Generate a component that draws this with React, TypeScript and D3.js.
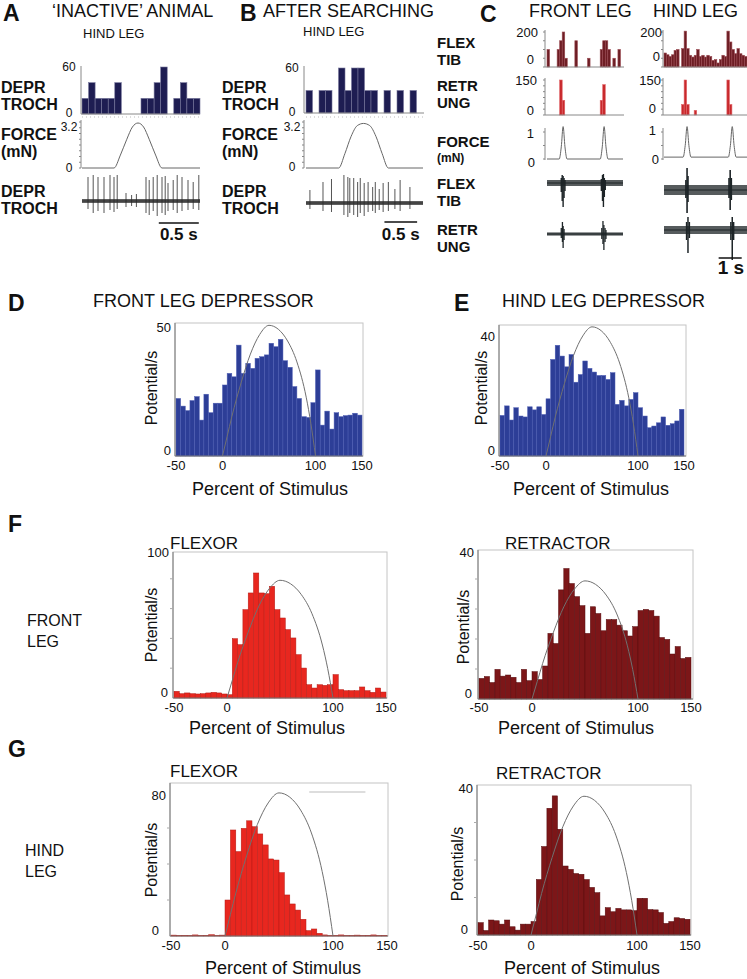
import React from "react";
import * as d3 from "d3";

const ff = "Liberation Sans, Arial, Helvetica, sans-serif";

// ---------- A / B : hind leg depressor, single stimuli ----------
const deprBinsA = [20, 40, 20, 20, 20, 40, 0, 0, 0, 20, 20, 40, 60, 0, 20, 40, 20, 20];
const deprBinsB = [30, 0, 30, 30, 0, 60, 30, 60, 60, 30, 30, 0, 30, 0, 30, 0, 30, 0];
// force samples [s, mN]
const forceA: [number, number][] = [[0, 0], [0.4, 0], [0.48, 0.9], [0.56, 2.0], [0.63, 2.85], [0.7, 3.13], [0.77, 2.85], [0.84, 2.0], [0.92, 0.9], [1.0, 0], [1.475, 0]];
const forceB: [number, number][] = [[0, 0], [0.5, 0], [0.595, 1.0], [0.69, 2.2], [0.785, 2.95], [0.88, 3.1], [0.975, 2.95], [1.07, 2.2], [1.165, 1.0], [1.26, 0], [1.79, 0]];
// spikes [s, up, down] (arbitrary units)
const spikesA: [number, number, number][] = [[0.075, 24, 8], [0.14, 26, 12], [0.2, 24, 10], [0.275, 24, 12], [0.35, 26, 9], [0.4, 24, 11], [0.44, 26, 8], [0.55, 8, 6], [0.62, 6, 5], [0.68, 7, 6], [0.8, 24, 12], [0.84, 21, 14], [0.89, 24, 10], [0.94, 26, 15], [1.0, 24, 12], [1.04, 25, 14], [1.075, 18, 10], [1.14, 21, 9], [1.19, 26, 12], [1.25, 24, 10], [1.325, 21, 9], [1.39, 19, 8], [1.46, 26, 9]];
const spikesB: [number, number, number][] = [[0.06, 13, 6], [0.26, 21, 8], [0.39, 24, 9], [0.58, 28, 12], [0.64, 26, 14], [0.67, 25, 10], [0.73, 25, 12], [0.79, 21, 14], [0.83, 25, 10], [0.89, 20, 13], [0.95, 21, 9], [1.02, 16, 8], [1.06, 21, 10], [1.12, 14, 7], [1.18, 20, 9], [1.26, 21, 8], [1.36, 14, 6], [1.44, 23, 8], [1.59, 16, 6]];

// ---------- C : front vs hind leg, repeated stimuli ----------
const flexFront = [100, 0, 0, 0, 100, 150, 200, 50, 0, 0, 0, 150, 0, 0, 0, 0, 50, 0, 0, 0, 0, 100, 150, 150, 100, 0, 50, 0, 100, 0];
const retrFront = [0, 0, 0, 0, 0, 150, 63, 0, 0, 0, 0, 0, 0, 0, 0, 0, 0, 0, 0, 0, 0, 63, 130, 0, 0, 0, 0, 0, 0, 0];
const flexHind = [80, 70, 60, 70, 95, 100, 0, 105, 205, 105, 67, 57, 67, 100, 60, 67, 57, 67, 60, 38, 42, 23, 42, 67, 60, 205, 143, 100, 76, 105, 76, 67, 60];
const retrHind = [0, 0, 0, 0, 0, 0, 0, 45, 150, 45, 0, 0, 20, 0, 0, 0, 0, 0, 0, 0, 0, 0, 0, 0, 0, 150, 45, 0, 0, 0, 0, 0, 0];
const forceFront: [number, number][] = [[0, 0], [0.53, 0], [0.62, 0.45], [0.7, 1.2], [0.78, 0.45], [0.87, 0], [2.31, 0], [2.4, 0.45], [2.48, 1.2], [2.56, 0.45], [2.65, 0], [3.3, 0]];
const forceHind: [number, number][] = [[0, 0.07], [0.83, 0.07], [0.92, 0.5], [1.0, 1.2], [1.08, 0.5], [1.17, 0.07], [2.79, 0.07], [2.88, 0.5], [2.96, 1.2], [3.04, 0.5], [3.13, 0.07], [3.6, 0.07]];
const flexFrontSpk: [number, number, number][] = [[0.62, 5, 9], [0.66, 8, 18], [0.7, 7, 24], [0.74, 5, 15], [0.78, 3, 8], [2.36, 4, 8], [2.41, 8, 18], [2.45, 9, 24], [2.49, 5, 14], [2.53, 3, 7]];
const retrFrontSpk: [number, number, number][] = [[0.62, 6, 4], [0.67, 12, 8], [0.7, 8, 14], [0.74, 5, 6], [2.38, 6, 5], [2.43, 13, 10], [2.47, 9, 16], [2.52, 6, 8], [2.56, 4, 5]];
const flexHindSpk: [number, number, number][] = [[0.95, 10, 8], [1.0, 22, 23], [1.04, 14, 12], [2.82, 12, 8], [2.87, 20, 20], [2.92, 12, 10]];
const retrHindSpk: [number, number, number][] = [[0.98, 8, 10], [1.04, 13, 23], [1.1, 8, 8], [2.9, 8, 10], [2.96, 13, 30], [3.02, 8, 10]];

// ---------- D-G : phase histograms (5% bins, -50..150 % of stimulus) ----------
const dVals = [21.8, 18.9, 17.2, 21, 22.5, 13.6, 23.4, 16.4, 20, 20, 26.9, 31.3, 30, 42, 31.3, 35.1, 33.2, 37, 37.6, 38.3, 42.7, 41.4, 44.2, 36.1, 33.6, 26.3, 21.8, 14.9, 14.6, 20.2, 32.6, 11.7, 17, 10.2, 16.4, 14.9, 15.3, 15.5, 16.2, 15.5];
const eVals = [13.2, 16.3, 11.7, 15.7, 13, 12.7, 16, 15, 16, 13.5, 18.6, 31.4, 36, 32.5, 29, 33, 24, 26.5, 30.9, 28.5, 27.3, 26.2, 26.2, 24.9, 27.1, 16.8, 18.1, 16.3, 18.4, 20.6, 15.7, 13, 9.2, 9.75, 10.8, 12.7, 10, 10.5, 11.4, 15.2];
const fFlexVals = [4.5, 2.9, 3.4, 2.9, 2.7, 2.9, 3.4, 3.8, 3.4, 2.7, 2.2, 39.8, 35.8, 59.3, 70.5, 83.9, 70.5, 70, 75, 59.3, 53.7, 45.9, 40.3, 29.1, 20.1, 8.9, 6.7, 8.9, 8.5, 8.9, 15.7, 5.6, 4.9, 4.9, 4.9, 7.4, 4.9, 3.8, 6.7, 4];
const fRetrVals = [5.5, 6, 4.4, 7.9, 6.1, 6.4, 5.8, 4.4, 7.9, 4.9, 7.3, 5.2, 8.8, 17.5, 14.8, 29.1, 34.8, 30.8, 27.3, 24.9, 17.5, 24.6, 22.8, 18.2, 21.2, 21.2, 19.7, 18.2, 16.8, 19.3, 23.6, 23.9, 23.6, 22.1, 16.4, 15.9, 12, 14, 10.8, 11.1];
const gFlexVals = [0.5, 0.3, 0.4, 0.3, 0.6, 0.3, 0.4, 0.7, 0.3, 0.5, 20, 58.9, 46.9, 59.8, 64, 60.7, 56.7, 50.6, 42.8, 42.2, 35.2, 22.8, 17.8, 14.4, 9.3, 3, 3.9, 1.5, 0.6, 0.3, 0.4, 0.6, 0.3, 0.3, 0.5, 0.3, 0.4, 0.6, 0.3, 0.4];
const gRetrVals = [3.3, 1.2, 4, 3.8, 2.9, 4, 2.2, 1.3, 2.9, 2.9, 3.6, 14.8, 23.6, 33.8, 37.1, 28.2, 18.4, 17.5, 16.4, 16.2, 14.8, 12.7, 11.3, 5.1, 7.3, 6.2, 7.1, 6.7, 6.7, 6.5, 9.8, 9.8, 6.8, 6.7, 6, 3.1, 3.6, 4.6, 4.4, 4.2];
// stimulus (force) profile overlaid, % of stimulus -> fraction of peak
const stimPct = [0, 5, 10, 20, 30, 40, 50, 60, 70, 80, 90, 95, 100];
const stimFrac = [0, 0.15, 0.3, 0.56, 0.78, 0.93, 1, 0.97, 0.88, 0.72, 0.45, 0.25, 0];
const xTicks = [-50, 0, 100, 150];

type Lin = d3.ScaleLinear<number, number>;

function MiniHist({ vals, t, y, fill, edge }: { vals: number[]; t: Lin; y: Lin; fill: string; edge: string }) {
  const [t0, t1] = t.domain();
  const w = (t1 - t0) / vals.length;
  return (
    <g>
      {vals.map((v, i) =>
        v > 0 ? (
          <rect key={i} x={t(t0 + i * w)} y={y(v)} width={t(t0 + (i + 1) * w) - t(t0 + i * w)} height={y(0) - y(v)} fill={fill} stroke={edge} strokeWidth={0.6} />
        ) : null
      )}
    </g>
  );
}

function ForceLine({ pts, t, y }: { pts: [number, number][]; t: Lin; y: Lin }) {
  const line = d3.line<[number, number]>().x((d) => t(d[0])).y((d) => y(d[1])).curve(d3.curveMonotoneX);
  return <path d={line(pts) || ""} fill="none" stroke="#666" strokeWidth={1} />;
}

function Trace({ t, y0, band, spikes, color = "#1d2427", sw = 1 }: { t: Lin; y0: number; band: number; spikes: [number, number, number][]; color?: string; sw?: number }) {
  const [a, b] = t.range();
  return (
    <g>
      <rect x={a} y={y0 - band} width={b - a} height={band * 2} fill={color} opacity={0.75} />
      <line x1={a} x2={b} y1={y0} y2={y0} stroke={color} strokeWidth={1.2} />
      {spikes.map(([s, up, dn], i) => (
        <line key={i} x1={t(s)} x2={t(s)} y1={y0 - up} y2={y0 + dn} stroke={color} strokeWidth={sw} />
      ))}
    </g>
  );
}

function Axis({ x, y0, y1, ticks }: { x: number; y0: number; y1: number; ticks?: number[] }) {
  return (
    <g stroke="#888" strokeWidth={1}>
      <line x1={x} x2={x} y1={y0} y2={y1} />
      {(ticks || []).map((ty, i) => <line key={i} x1={x - 2} x2={x} y1={ty} y2={ty} />)}
    </g>
  );
}

type HistCfg = {
  vals: number[]; peak: number; yMax: number; yLabels: number[];
  x0: number; x1: number; yBot: number; yTop: number; frameTop: number; frameRight: number;
  fill: string; edge: string; ylabX: number; ylabY: number; xlabX: number; xlabY: number; tickY: number; minor?: number; zeroX?: number;
};

function StimHist({ c }: { c: HistCfg }) {
  const x = d3.scaleLinear().domain([-50, 150]).range([c.x0, c.x1]);
  const y = d3.scaleLinear().domain([0, c.yMax]).range([c.yBot, c.yTop]);
  const w = 200 / c.vals.length;
  const curve = d3.line<number>().x((_, i) => x(stimPct[i])).y((f) => y(f * c.peak)).curve(d3.curveMonotoneX);
  const minors = c.minor ? d3.range(c.minor, c.yMax, c.minor) : [];
  return (
    <g>
      <rect x={c.x0 - 1} y={c.frameTop} width={c.frameRight - c.x0 + 1} height={c.yBot - c.frameTop} fill="none" stroke="#c4c4c4" strokeWidth={1} />
      {c.vals.map((v, i) => (
        <rect key={i} x={x(-50 + i * w)} y={y(v)} width={x(-50 + (i + 1) * w) - x(-50 + i * w)} height={c.yBot - y(v)} fill={c.fill} stroke={c.edge} strokeWidth={0.5} />
      ))}
      <path d={curve(stimFrac) || ""} fill="none" stroke="#707070" strokeWidth={1} />
      <line x1={c.x0 - 1} x2={c.x0 - 1} y1={c.frameTop} y2={c.yBot} stroke="#777" />
      <line x1={c.x0 - 1} x2={c.frameRight} y1={c.yBot} y2={c.yBot} stroke="#777" />
      {minors.map((m) => <line key={m} x1={c.x0 - 4} x2={c.x0 - 1} y1={y(m)} y2={y(m)} stroke="#aaa" />)}
      {c.yLabels.map((v) => (
        <text key={v} x={v === 0 && c.zeroX ? c.zeroX : c.x0 - 5} y={v === 0 ? y(0) - 6 : y(v) + 3} textAnchor="end" dominantBaseline="central" fontSize={13}>{v}</text>
      ))}
      {xTicks.map((v) => (
        <text key={v} x={x(v)} y={c.tickY} textAnchor="middle" fontSize={13}>{v}</text>
      ))}
      <text transform={`translate(${c.ylabX},${c.ylabY}) rotate(-90)`} textAnchor="middle" fontSize={16}>Potential/s</text>
      <text x={c.xlabX} y={c.xlabY} textAnchor="middle" fontSize={18}>Percent of Stimulus</text>
    </g>
  );
}

const B = ({ x, y, s = 15, children }: { x: number; y: number; s?: number; children: React.ReactNode }) => (
  <text x={x} y={y} fontWeight="bold" fontSize={s}>{children}</text>
);
const T = ({ x, y, s = 18, anchor = "start", children }: { x: number; y: number; s?: number; anchor?: string; children: React.ReactNode }) => (
  <text x={x} y={y} fontSize={s} textAnchor={anchor as any}>{children}</text>
);

export default function App() {
  // A
  const tA = d3.scaleLinear().domain([0, 1.475]).range([82, 200]);
  const hA = d3.scaleLinear().domain([0, 60]).range([114, 67]);
  const fA = d3.scaleLinear().domain([0, 3.2]).range([168, 122]);
  // B
  const tB = d3.scaleLinear().domain([0, 1.79]).range([306, 423]);
  const hB = d3.scaleLinear().domain([0, 60]).range([113, 68]);
  const fB = d3.scaleLinear().domain([0, 3.2]).range([168, 122]);
  // C
  const tF = d3.scaleLinear().domain([0, 3.3]).range([547, 623]);
  const tH = d3.scaleLinear().domain([0, 3.6]).range([664, 747]);
  const hFlex = d3.scaleLinear().domain([0, 200]).range([67, 32]);
  const hRetr = d3.scaleLinear().domain([0, 150]).range([115, 80]);
  const fC = d3.scaleLinear().domain([0, 1]).range([159, 132]);

  const navy = "#1e1d52";
  const navyEdge = "#77779c";

  const panels: HistCfg[] = [
    { vals: dVals, peak: 49.5, yMax: 50, yLabels: [0, 50], x0: 176, x1: 362, yBot: 456, yTop: 324, frameTop: 323, frameRight: 363, fill: "#2d3e97", edge: "#4d5db3", ylabX: 157, ylabY: 388, xlabX: 270, xlabY: 495, tickY: 470 },
    { vals: eVals, peak: 42, yMax: 40, yLabels: [0, 40], x0: 500, x1: 684, yBot: 456, yTop: 333, frameTop: 325, frameRight: 686, fill: "#2d3e97", edge: "#4d5db3", ylabX: 487, ylabY: 388, xlabX: 591, xlabY: 495, tickY: 470 },
    { vals: fFlexVals, peak: 79, yMax: 100, yLabels: [0, 100], x0: 174, x1: 386, yBot: 698, yTop: 549, frameTop: 552, frameRight: 387, fill: "#e8271f", edge: "#b51b15", ylabX: 157, ylabY: 625, xlabX: 267, xlabY: 734, tickY: 712, minor: 20, zeroX: 168 },
    { vals: fRetrVals, peak: 31.5, yMax: 40, yLabels: [0, 40], x0: 479, x1: 691, yBot: 699, yTop: 549, frameTop: 550, frameRight: 693, fill: "#7c1618", edge: "#560d0f", ylabX: 469, ylabY: 627, xlabX: 576, xlabY: 734, tickY: 712, minor: 8, zeroX: 472 },
    { vals: gFlexVals, peak: 79.5, yMax: 80, yLabels: [0, 80], x0: 171, x1: 387, yBot: 936, yTop: 792, frameTop: 783, frameRight: 388, fill: "#e8271f", edge: "#b51b15", ylabX: 157, ylabY: 860, xlabX: 283, xlabY: 974, tickY: 950, minor: 20, zeroX: 159 },
    { vals: gRetrVals, peak: 37, yMax: 40, yLabels: [0, 40], x0: 478, x1: 690, yBot: 935, yTop: 785, frameTop: 785, frameRight: 691, fill: "#7c1618", edge: "#560d0f", ylabX: 463, ylabY: 864, xlabX: 582, xlabY: 974, tickY: 950, minor: 10, zeroX: 468 },
  ];
  const gLeftX = d3.scaleLinear().domain([-50, 150]).range([171, 387]);
  const gLeftY = d3.scaleLinear().domain([0, 80]).range([936, 792]);

  return (
    <svg width={747} height={979} style={{ position: "absolute", left: 0, top: 0, background: "#fff" }} fontFamily={ff} fill="#111">
      {/* ---------- A ---------- */}
      <B x={3} y={21} s={23}>A</B>
      <T x={52} y={17}>‘INACTIVE’ ANIMAL</T>
      <T x={83} y={38} s={13}>HIND LEG</T>
      <B x={1} y={93} s={16}>DEPR</B>
      <B x={1} y={110} s={16}>TROCH</B>
      <B x={1} y={140} s={16}>FORCE</B>
      <B x={1} y={157} s={16}>(mN)</B>
      <B x={1} y={197} s={16}>DEPR</B>
      <B x={1} y={214} s={16}>TROCH</B>
      <MiniHist vals={deprBinsA} t={tA} y={hA} fill={navy} edge={navyEdge} />
      <Axis x={81} y0={66} y1={114} />
      <line x1={81} x2={200} y1={114} y2={114} stroke="#888" />
      <line x1={82} x2={200} y1={117} y2={117} stroke="#bbb" strokeDasharray="1,3" />
      <text x={69} y={hA(60)} textAnchor="middle" dominantBaseline="central" fontSize={12}>60</text>
      <text x={69} y={hA(0) - 1} textAnchor="middle" dominantBaseline="central" fontSize={12}>0</text>
      <Axis x={81} y0={120} y1={168} ticks={d3.range(0, 3.3, 0.4).map((v) => fA(v))} />
      <ForceLine pts={forceA} t={tA} y={fA} />
      <text x={69} y={fA(3.2) + 5} textAnchor="middle" dominantBaseline="central" fontSize={12}>3.2</text>
      <text x={69} y={fA(0)} textAnchor="middle" dominantBaseline="central" fontSize={12}>0</text>
      <Trace t={tA} y0={201} band={2} spikes={spikesA} color="#2a2a2a" sw={0.8} />
      <line x1={tA(0.96)} x2={tA(1.46)} y1={223} y2={223} stroke="#111" strokeWidth={1.5} />
      <text x={tA(1.21)} y={240} textAnchor="middle" fontWeight="bold" fontSize={17}>0.5 s</text>

      {/* ---------- B ---------- */}
      <B x={240} y={21} s={23}>B</B>
      <T x={263} y={17}>AFTER SEARCHING</T>
      <T x={303} y={36} s={13}>HIND LEG</T>
      <B x={222} y={93} s={16}>DEPR</B>
      <B x={222} y={110} s={16}>TROCH</B>
      <B x={222} y={140} s={16}>FORCE</B>
      <B x={222} y={157} s={16}>(mN)</B>
      <B x={222} y={197} s={16}>DEPR</B>
      <B x={222} y={214} s={16}>TROCH</B>
      <MiniHist vals={deprBinsB} t={tB} y={hB} fill={navy} edge={navyEdge} />
      <Axis x={304} y0={66} y1={113} />
      <line x1={304} x2={424} y1={113} y2={113} stroke="#888" />
      <line x1={306} x2={424} y1={117} y2={117} stroke="#bbb" strokeDasharray="1,3" />
      <text x={292} y={hB(60)} textAnchor="middle" dominantBaseline="central" fontSize={12}>60</text>
      <text x={292} y={hB(0) - 1} textAnchor="middle" dominantBaseline="central" fontSize={12}>0</text>
      <Axis x={304} y0={120} y1={168} ticks={d3.range(0, 3.3, 0.4).map((v) => fB(v))} />
      <ForceLine pts={forceB} t={tB} y={fB} />
      <text x={292} y={fB(3.2) + 5} textAnchor="middle" dominantBaseline="central" fontSize={12}>3.2</text>
      <text x={292} y={fB(0) - 1} textAnchor="middle" dominantBaseline="central" fontSize={12}>0</text>
      <Trace t={tB} y0={203} band={2} spikes={spikesB} color="#2a2a2a" sw={0.8} />
      <line x1={tB(1.2)} x2={tB(1.7)} y1={222} y2={222} stroke="#111" strokeWidth={1.5} />
      <text x={tB(1.45)} y={240} textAnchor="middle" fontWeight="bold" fontSize={17}>0.5 s</text>

      {/* ---------- C ---------- */}
      <B x={480} y={22} s={23}>C</B>
      <T x={529} y={17}>FRONT LEG</T>
      <T x={653} y={17}>HIND LEG</T>
      <B x={437} y={48}>FLEX</B>
      <B x={437} y={65}>TIB</B>
      <B x={437} y={91}>RETR</B>
      <B x={437} y={108}>UNG</B>
      <B x={437} y={147}>FORCE</B>
      <B x={437} y={162} s={12}>(mN)</B>
      <B x={437} y={189}>FLEX</B>
      <B x={437} y={206}>TIB</B>
      <B x={437} y={235}>RETR</B>
      <B x={437} y={252}>UNG</B>

      {/* front */}
      <MiniHist vals={flexFront} t={tF} y={hFlex} fill="#6d1d24" edge="#9a4a52" />
      <Axis x={545} y0={30} y1={67} ticks={d3.range(0, 201, 50).map((v) => hFlex(v))} />
      <line x1={545} x2={624} y1={67} y2={67} stroke="#888" />
      <text x={538} y={hFlex(200)} textAnchor="end" dominantBaseline="central" fontSize={13}>200</text>
      <text x={534} y={hFlex(0) - 8} textAnchor="end" dominantBaseline="central" fontSize={13}>0</text>
      <MiniHist vals={retrFront} t={tF} y={hRetr} fill="#c8292c" edge="#e06266" />
      <Axis x={545} y0={78} y1={115} ticks={d3.range(0, 151, 25).map((v) => hRetr(v))} />
      <line x1={545} x2={624} y1={115} y2={115} stroke="#888" />
      <text x={537} y={hRetr(150)} textAnchor="end" dominantBaseline="central" fontSize={13}>150</text>
      <text x={534} y={hRetr(0) - 5} textAnchor="end" dominantBaseline="central" fontSize={13}>0</text>
      <Axis x={545} y0={128} y1={160} ticks={[fC(0), fC(0.5), fC(1)]} />
      <ForceLine pts={forceFront} t={tF} y={fC} />
      <text x={534} y={fC(1) + 1} textAnchor="end" dominantBaseline="central" fontSize={13}>1</text>
      <text x={535} y={fC(0) + 3} textAnchor="end" dominantBaseline="central" fontSize={13}>0</text>
      <Trace t={tF} y0={183} band={3} spikes={flexFrontSpk} sw={1.4} />
      <Trace t={tF} y0={234} band={1.6} spikes={retrFrontSpk} sw={1.3} />

      {/* hind */}
      <MiniHist vals={flexHind} t={tH} y={hFlex} fill="#6d1d24" edge="#9a4a52" />
      <Axis x={663} y0={30} y1={67} ticks={d3.range(0, 201, 50).map((v) => hFlex(v))} />
      <line x1={663} x2={747} y1={67} y2={67} stroke="#888" />
      <text x={662} y={hFlex(200)} textAnchor="end" dominantBaseline="central" fontSize={13}>200</text>
      <text x={660} y={hFlex(0) - 11} textAnchor="end" dominantBaseline="central" fontSize={13}>0</text>
      <MiniHist vals={retrHind} t={tH} y={hRetr} fill="#c8292c" edge="#e06266" />
      <Axis x={663} y0={78} y1={115} ticks={d3.range(0, 151, 25).map((v) => hRetr(v))} />
      <line x1={663} x2={747} y1={115} y2={115} stroke="#888" />
      <text x={661} y={hRetr(150)} textAnchor="end" dominantBaseline="central" fontSize={13}>150</text>
      <text x={656} y={hRetr(0) - 7} textAnchor="end" dominantBaseline="central" fontSize={13}>0</text>
      <Axis x={663} y0={128} y1={160} ticks={[fC(0), fC(0.5), fC(1)]} />
      <ForceLine pts={forceHind} t={tH} y={fC} />
      <text x={656} y={fC(1) - 2} textAnchor="end" dominantBaseline="central" fontSize={13}>1</text>
      <text x={659} y={fC(0)} textAnchor="end" dominantBaseline="central" fontSize={13}>0</text>
      <Trace t={tH} y0={190} band={5} spikes={flexHindSpk} sw={1.6} />
      <Trace t={tH} y0={230} band={4} spikes={retrHindSpk} sw={1.5} />
      <line x1={tH(2.37)} x2={tH(3.37)} y1={258} y2={258} stroke="#111" strokeWidth={1.5} />
      <text x={tH(2.9)} y={274} textAnchor="middle" fontWeight="bold" fontSize={19}>1 s</text>

      {/* ---------- D / E ---------- */}
      <B x={8} y={311} s={23}>D</B>
      <T x={93} y={307}>FRONT LEG DEPRESSOR</T>
      <B x={454} y={311} s={23}>E</B>
      <T x={502} y={307}>HIND LEG DEPRESSOR</T>
      <StimHist c={panels[0]} />
      <StimHist c={panels[1]} />

      {/* ---------- F ---------- */}
      <B x={8} y={532} s={23}>F</B>
      <T x={170} y={549} s={17}>FLEXOR</T>
      <T x={505} y={549} s={17}>RETRACTOR</T>
      <T x={27} y={626} s={16}>FRONT</T>
      <T x={27} y={647} s={16}>LEG</T>
      <StimHist c={panels[2]} />
      <StimHist c={panels[3]} />

      {/* ---------- G ---------- */}
      <B x={8} y={757} s={23}>G</B>
      <T x={170} y={777} s={17}>FLEXOR</T>
      <T x={496} y={779} s={17}>RETRACTOR</T>
      <T x={25} y={856} s={16}>HIND</T>
      <T x={25} y={877} s={16}>LEG</T>
      <StimHist c={panels[4]} />
      <StimHist c={panels[5]} />
      <line x1={gLeftX(78)} x2={gLeftX(130)} y1={gLeftY(80)} y2={gLeftY(80)} stroke="#bbb" strokeWidth={1.2} />
    </svg>
  );
}
